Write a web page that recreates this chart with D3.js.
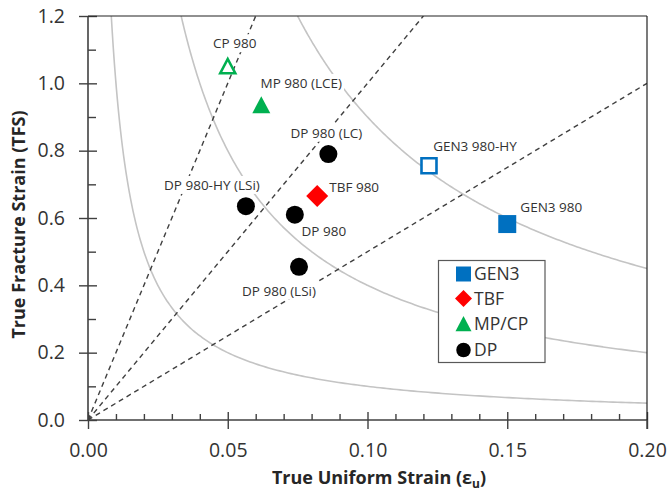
<!DOCTYPE html>
<html>
<head>
<meta charset="utf-8">
<script src="https://cdn.jsdelivr.net/npm/d3@7"></script>
<style>
  html, body { margin: 0; padding: 0; background: #fff; }
  svg { display: block; font-family: "Open Sans", sans-serif; }
</style>
</head>
<body>
<svg id="chart" width="671" height="493"></svg>
<script>
// ---- data ----
const grades = ["CP 980", "MP 980 (LCE)", "DP 980 (LC)", "DP 980-HY (LSi)", "TBF 980",
                "DP 980", "DP 980 (LSi)", "GEN3 980-HY", "GEN3 980"];
const uniformStrain  = [0.050, 0.062, 0.086, 0.0565, 0.082, 0.074, 0.0755, 0.122, 0.150];
const fractureStrain = [1.05, 0.935, 0.79, 0.635, 0.665, 0.61, 0.455, 0.755, 0.582];
const gradeFamily = ["MP/CP", "MP/CP", "DP", "DP", "TBF", "DP", "DP", "GEN3", "GEN3"];
const hollowMarker = [true, false, false, false, false, false, false, true, false];

const families = ["GEN3", "TBF", "MP/CP", "DP"];
const familyColors = ["#0070C0", "#FF0000", "#00B050", "#000000"];
const familyShapes = ["square", "diamond", "triangle", "circle"];

// TFS / eu ratio rays and TFS x eu product curves
const ratioLines = [20, 10, 5];
const productCurves = [0.01, 0.04, 0.09];

const xTicks = [0, 0.05, 0.10, 0.15, 0.20];
const xMinor = [0.01, 0.02, 0.03, 0.04, 0.06, 0.07, 0.08, 0.09, 0.11, 0.12, 0.13, 0.14, 0.16, 0.17, 0.18, 0.19];
const yTicks = [0, 0.2, 0.4, 0.6, 0.8, 1.0, 1.2];
const yMinor = [0.1, 0.3, 0.5, 0.7, 0.9, 1.1];

// label placement relative to each marker (dx, dy of label centre)
const labelOffsets = [[7, -23], [40, -22], [-2, -21], [-34, -21], [37, -9],
                      [29, 17], [-20, 24], [46, -20], [44, -17]];

// ---- layout ----
const svg = d3.select("#chart");
const L = 88, R = 647, T = 16, B = 420;
const x = d3.scaleLinear().domain([0, 0.2]).range([L, R]);
const y = d3.scaleLinear().domain([0, 1.2]).range([B, T]);
const axisColor = "#404040";
const textColor = "#333333";

svg.append("defs").append("clipPath").attr("id", "plotClip")
  .append("rect").attr("x", L).attr("y", T).attr("width", R - L).attr("height", B - T);

const plot = svg.append("g").attr("clip-path", "url(#plotClip)");

// product curves (grey)
productCurves.forEach(c => {
  const x0 = c / 1.2;
  const pts = d3.range(0, 201).map(i => {
    const xv = x0 + (0.2 - x0) * Math.pow(i / 200, 1.6);
    return [xv, c / xv];
  });
  plot.append("path")
    .attr("d", d3.line().x(d => x(d[0])).y(d => y(d[1])).curve(d3.curveBasis)(pts))
    .attr("fill", "none").attr("stroke", "#C4C4C4").attr("stroke-width", 1.6);
});

// ratio rays (dashed)
ratioLines.forEach(r => {
  const xe = Math.min(0.2, 1.2 / r);
  plot.append("line")
    .attr("x1", x(0)).attr("y1", y(0)).attr("x2", x(xe)).attr("y2", y(xe * r))
    .attr("stroke", "#404040").attr("stroke-width", 1.4).attr("stroke-dasharray", "5,4");
});

// ---- axes ----
const gx = svg.append("g").attr("transform", `translate(0,${B})`);
gx.call(d3.axisBottom(x).tickValues(xTicks).tickSize(9).tickPadding(14).tickFormat(d3.format(".2f")));
gx.append("g").call(d3.axisTop(x).tickValues(xTicks).tickSize(8).tickFormat(""));
gx.append("g").call(d3.axisTop(x).tickValues(xMinor).tickSize(6).tickFormat(""));

const gy = svg.append("g").attr("transform", `translate(${L},0)`);
gy.call(d3.axisLeft(y).tickValues(yTicks).tickSize(9).tickPadding(14).tickFormat(d3.format(".1f")));
gy.append("g").call(d3.axisRight(y).tickValues(yTicks).tickSize(9).tickFormat(""));
gy.append("g").call(d3.axisRight(y).tickValues(yMinor).tickSize(8).tickFormat(""));

[gx, gy].forEach(g => {
  g.selectAll(".domain").remove();
  g.selectAll("line").attr("stroke", axisColor).attr("stroke-width", 1.4);
  g.selectAll("text").attr("fill", textColor).style("font-size", "19.5px").style("font-family", "Open Sans");
});
gx.selectAll("text").attr("dy", "0.71em");

// frame
svg.append("line").attr("x1", L).attr("x2", R).attr("y1", B).attr("y2", B).attr("stroke", axisColor).attr("stroke-width", 1.6);
svg.append("line").attr("x1", L).attr("x2", L).attr("y1", T).attr("y2", B).attr("stroke", axisColor).attr("stroke-width", 1.6);
svg.append("line").attr("x1", L).attr("x2", R).attr("y1", T).attr("y2", T).attr("stroke", "#222").attr("stroke-width", 1.2);
svg.append("line").attr("x1", R).attr("x2", R).attr("y1", T).attr("y2", B).attr("stroke", "#222").attr("stroke-width", 1.2);
svg.append("line").attr("x1", R).attr("x2", R).attr("y1", B).attr("y2", B + 9).attr("stroke", axisColor).attr("stroke-width", 1.4);

// axis titles
const xt = svg.append("text").attr("x", 379).attr("y", 484)
  .attr("text-anchor", "middle").attr("fill", "#262626")
  .style("font-size", "18px").style("font-weight", "bold");
xt.append("tspan").text("True Uniform Strain (\u03B5");
xt.append("tspan").text("u").attr("dy", 4).style("font-size", "12px");
xt.append("tspan").text(")").attr("dy", -4);

svg.append("text").attr("transform", "translate(25,224.5) rotate(-90)")
  .attr("text-anchor", "middle").attr("fill", "#262626")
  .style("font-size", "18px").style("font-weight", "bold")
  .text("True Fracture Strain (TFS)");

// ---- marker shapes ----
function shapePath(shape, s) {
  const h = s / 2;
  if (shape === "square") return `M${-h},${-h}H${h}V${h}H${-h}Z`;
  if (shape === "diamond") return `M0,${-h}L${h},0L0,${h}L${-h},0Z`;
  if (shape === "triangle") return `M0,${-h}L${h},${h * 0.9}L${-h},${h * 0.9}Z`;
  return d3.arc()({innerRadius: 0, outerRadius: h, startAngle: 0, endAngle: 2 * Math.PI});
}
const shapeSize = {square: 18, diamond: 22, triangle: 18, circle: 18};

// ---- data labels (white boxes over the guide lines) ----
const labels = svg.append("g");
grades.forEach((name, i) => {
  const cx = x(uniformStrain[i]) + labelOffsets[i][0];
  const cy = y(fractureStrain[i]) + labelOffsets[i][1];
  const g = labels.append("g");
  const t = g.append("text").attr("x", cx).attr("y", cy).attr("dy", "0.35em")
    .attr("text-anchor", "middle").attr("fill", textColor)
    .style("font-size", "13.5px").text(name);
  const bb = t.node().getBBox();
  g.insert("rect", "text").attr("x", bb.x - 2).attr("y", bb.y).attr("width", bb.width + 4)
    .attr("height", bb.height).attr("fill", "#fff");
});

// ---- markers ----
const markers = svg.append("g");
grades.forEach((name, i) => {
  const f = families.indexOf(gradeFamily[i]);
  const shape = familyShapes[f], col = familyColors[f];
  const hollow = hollowMarker[i];
  markers.append("path")
    .attr("transform", `translate(${x(uniformStrain[i])},${y(fractureStrain[i])})`)
    .attr("d", shapePath(shape, hollow ? shapeSize[shape] - 3 : shapeSize[shape]))
    .attr("fill", hollow ? "#fff" : col)
    .attr("stroke", col).attr("stroke-width", hollow ? 2.6 : 0);
});

// ---- legend ----
const lg = svg.append("g");
lg.append("rect").attr("x", 438.5).attr("y", 260.5).attr("width", 106.5).attr("height", 102)
  .attr("fill", "#fff").attr("stroke", "#595959").attr("stroke-width", 1.2);
const legendRowY = [274, 298.5, 324, 350];
const legendSize = {square: 15, diamond: 17, triangle: 16, circle: 14.5};
families.forEach((f, i) => {
  lg.append("path").attr("transform", `translate(463.5,${legendRowY[i]})`)
    .attr("d", shapePath(familyShapes[i], legendSize[familyShapes[i]]))
    .attr("fill", familyColors[i]);
  lg.append("text").attr("x", 474).attr("y", legendRowY[i]).attr("dy", "0.36em")
    .attr("fill", textColor).style("font-size", "17.5px").text(f);
});
</script>
</body>
</html>
